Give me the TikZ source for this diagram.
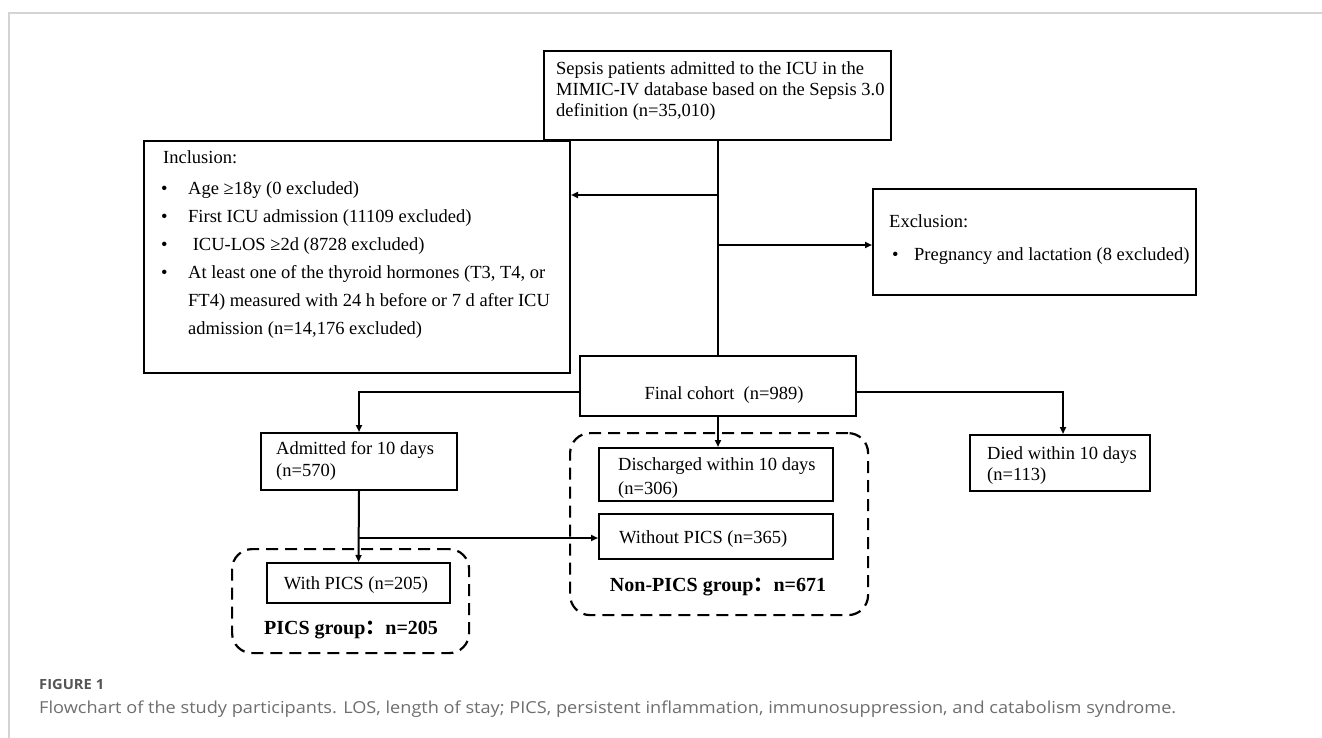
\documentclass[tikz,border=0pt]{standalone}
\usepackage{fontspec}
\usepackage{graphicx}
\setmainfont{Liberation Serif}
\newfontfamily\capfont{Open Sans}
\newfontfamily\cjk{Noto Sans CJK SC}
\usetikzlibrary{arrows.meta,positioning}
\definecolor{framec}{RGB}{212,212,212}
\definecolor{capc}{RGB}{110,110,110}
\definecolor{figc}{RGB}{85,85,85}
\tikzset{
  box/.style={draw=black, line width=2pt, inner sep=0pt, anchor=north west},
  txt/.style={inner sep=0pt, align=left, anchor=north west, font=\fontsize{18.5}{21}\selectfont},
  one/.style={inner sep=0pt, font=\fontsize{18.5}{21}\selectfont},
  grp/.style={draw=black, line width=2.2pt, dash pattern=on 12pt off 7pt, rounded corners=20pt, inner sep=0pt, anchor=north west},
  conn/.style={draw=black, line width=2pt},
  arr/.style={conn, -{Triangle[length=7pt,width=6pt]}},
  bold/.style={inner sep=0pt, anchor=base, font=\fontsize{20}{22}\selectfont\bfseries}
}
\newcommand{\bl}{\makebox[27pt][l]{\textbullet}}
\begin{document}
\begin{tikzpicture}[x=1pt,y=-1pt]
\useasboundingbox (0,0) rectangle (1322,738);
% frame
\draw[framec, line width=1.3pt] (9,738) -- (9,13) -- (1322,13);

% dashed groups
\node[grp, minimum width=298pt, minimum height=182pt] (nongrp) at (569,432) {};
\node[grp, minimum width=237pt, minimum height=104pt] (picsgrp) at (231,548) {};

% boxes
\node[box, minimum width=347pt, minimum height=89pt] (top) at (543,50) {};
\node[txt] (toptxt) at (556,59.8) {\strut Sepsis patients admitted to the ICU in the\\MIMIC-IV database based on the Sepsis 3.0\\definition (n=35,010)};

\node[box, minimum width=426pt, minimum height=232pt] (incl) at (143,140) {};
\node[txt, font=\fontsize{18.5}{28}\selectfont] (incltxt) at (161,143.9) {\strut\hspace*{2pt}Inclusion:\\[3pt]
\bl Age \char"2265 18y (0 excluded)\\
\bl First ICU admission (11109 excluded)\\
\bl \ ICU-LOS \char"2265 2d (8728 excluded)\\
\bl At least one of the thyroid hormones (T3, T4, or\\
\hspace*{27pt}FT4) measured with 24 h before or 7 d after ICU\\
\hspace*{27pt}admission (n=14,176 excluded)};

\node[box, minimum width=323pt, minimum height=106pt] (excl) at (872,188) {};
\node[txt] (excltxt) at (889,212.8) {\strut Exclusion:\\[12pt]
\hspace*{3pt}\makebox[22pt][l]{\textbullet}Pregnancy and lactation (8 excluded)};

\node[box, minimum width=276pt, minimum height=60pt] (final) at (579,355) {};
\node[one, anchor=base] (finaltxt) at (724,399.5) {Final cohort\ \ (n=989)};

\node[box, minimum width=196pt, minimum height=57pt] (adm) at (260,432) {};
\node[txt, font=\fontsize{18.5}{22}\selectfont] (admtxt) at (276,439.1) {\strut Admitted for 10 days\\(n=570)};

\node[box, minimum width=180pt, minimum height=56pt] (died) at (969,434) {};
\node[txt] (diedtxt) at (987,444.8) {\strut Died within 10 days\\(n=113)};

\node[box, minimum width=234pt, minimum height=53pt] (dis) at (598,447) {};
\node[txt, font=\fontsize{18.5}{24}\selectfont] (distxt) at (618,453.7) {\strut Discharged within 10 days\\(n=306)};

\node[box, minimum width=234pt, minimum height=45pt] (without) at (598,513) {};
\node[one, anchor=base west] (withouttxt) at (619,543.5) {Without PICS (n=365)};

\node[box, minimum width=183pt, minimum height=40pt] (with) at (266,562) {};
\node[one, anchor=base] (withtxt) at (356,589.5) {With PICS (n=205)};

\node[bold] (nonlab) at (718,591) {Non-PICS group{\cjk ：}n=671};
\node[bold] (picslab) at (351,634) {PICS group{\cjk ：}n=205};

% connectors
\coordinate (j1) at (717,195);
\coordinate (j2) at (717,245);
\coordinate (fy) at (717,392);
\coordinate (j3) at (358,538);
\coordinate (dx) at (1063,434);
\draw[conn] (top.south) -- (top.south |- final.north);
\draw[arr] (j1) -- (j1 -| incl.east);
\draw[arr] (j2) -- (j2 -| excl.west);
\draw[arr] (final.west |- fy) -| (adm.north);
\draw[arr] (final.east |- fy) -| (dx);
\draw[arr] (final.south) -- (final.south |- dis.north);
\draw[arr] (adm.south) -- (with.north);
\draw[arr] (j3) -- (j3 -| without.west);

% caption
\node[inner sep=0pt, anchor=base west, font=\capfont\fontsize{14}{17}\selectfont\bfseries, text=figc] (figlab) at (39,689) {\resizebox{65pt}{\height}{FIGURE 1}};
\node[inner sep=0pt, anchor=base west, font=\capfont\fontsize{16.5}{19}\selectfont, text=capc] (cap) at (39,713) {\resizebox{1137pt}{\height}{Flowchart of the study participants. LOS, length of stay; PICS, persistent inflammation, immunosuppression, and catabolism syndrome.}};
\end{tikzpicture}
\end{document}
